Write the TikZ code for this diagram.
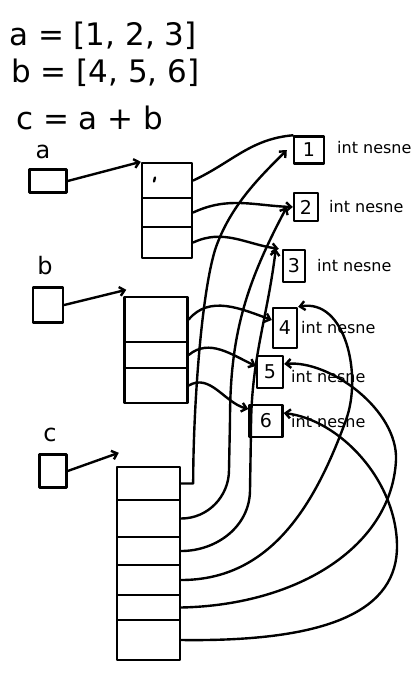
\documentclass[tikz,border=0pt]{standalone}
\usepackage{fontspec}
\setmainfont{DejaVu Sans}
\usetikzlibrary{arrows.meta}
\begin{document}
\begin{tikzpicture}[x=1pt,y=-1pt, line width=2.4pt, line cap=round, line join=round,
  cellbox/.style={draw, inner sep=0pt},
  varbox/.style={draw, inner sep=0pt},
  objbox/.style={draw, inner sep=0pt, font=\fontsize{19}{19}\selectfont},
  nlbl/.style={anchor=west, inner sep=0pt, font=\fontsize{16}{16}\selectfont},
  vlbl/.style={inner sep=0pt, font=\fontsize{24}{24}\selectfont},
  big/.style={anchor=west, inner sep=0pt, font=\fontsize{31}{31}\selectfont},
  arr/.style={-{Straight Barb[length=5pt,width=9pt]}}]
\useasboundingbox (0,0) rectangle (413,673);

% statements
\node[big] (ta) at (8,36) {a = [1, 2, 3]};
\node[big] (tb) at (10,73) {b = [4, 5, 6]};
\node[big] (tc) at (15,118) {c = a + b};

% variables
\node[vlbl] (la) at (43,152) {a};
\node[varbox, minimum width=37pt, minimum height=23pt] (abox) at (48,181) {};
\node[vlbl] (lb) at (45,266) {b};
\node[varbox, minimum width=30pt, minimum height=35pt] (bbox) at (48,305) {};
\node[vlbl] (lc) at (50,435) {c};
\node[varbox, minimum width=27pt, minimum height=33pt] (cbox) at (53,471) {};

% list a
\node[cellbox, minimum width=50pt, minimum height=35pt] (a1) at (167,180.5) {};
\node[cellbox, minimum width=50pt, minimum height=29pt] (a2) at (167,212.5) {};
\node[cellbox, minimum width=50pt, minimum height=31pt] (a3) at (167,242.5) {};
\draw (a1.center) ++(-12,-3) -- ++(-1,4);

% list b
\node[cellbox, minimum width=63pt, minimum height=45pt] (b1) at (156,319.5) {};
\node[cellbox, minimum width=63pt, minimum height=26pt] (b2) at (156,355) {};
\node[cellbox, minimum width=63pt, minimum height=35pt] (b3) at (156,385.5) {};

% list c
\node[cellbox, minimum width=63pt, minimum height=33pt] (c1) at (148.5,483.5) {};
\node[cellbox, minimum width=63pt, minimum height=37pt] (c2) at (148.5,518.5) {};
\node[cellbox, minimum width=63pt, minimum height=28pt] (c3) at (148.5,551) {};
\node[cellbox, minimum width=63pt, minimum height=30pt] (c4) at (148.5,580) {};
\node[cellbox, minimum width=63pt, minimum height=25pt] (c5) at (148.5,607.5) {};
\node[cellbox, minimum width=63pt, minimum height=40pt] (c6) at (148.5,640) {};

% int objects
\node[objbox, minimum width=30pt, minimum height=27pt] (o1) at (309,150) {1};
\node[objbox, minimum width=24pt, minimum height=28pt] (o2) at (306,207) {2};
\node[objbox, minimum width=22pt, minimum height=32pt] (o3) at (294,266) {3};
\node[objbox, minimum width=24pt, minimum height=40pt] (o4) at (285,328) {4};
\node[objbox, minimum width=26pt, minimum height=32pt] (o5) at (270,372) {5};
\node[objbox, minimum width=33pt, minimum height=32pt] (o6) at (266,421) {6};

\node[nlbl] (n1) at (336,148) {int nesne};
\node[nlbl] (n2) at (328,207) {int nesne};
\node[nlbl] (n3) at (316,266) {int nesne};
\node[nlbl] (n4) at (300,328) {int nesne};
\node[nlbl] (n5) at (290,377) {int nesne};
\node[nlbl] (n6) at (290,422) {int nesne};

% variable pointers
\draw[arr] (abox.east) -- (a1.north west);
\draw[arr] (bbox.east) -- ([yshift=6pt,xshift=3pt]b1.north west);
\draw[arr] (cbox.east) -- ([yshift=13pt,xshift=3pt]c1.north west);

% list a pointers
\draw (a1.east) to[out=25,in=185] (o1.north west);
\draw[arr] (a2.east) to[out=25,in=178] (o2.west);
\draw[arr] (a3.east) to[out=25,in=172] ([xshift=-3pt]o3.north west);

% list b pointers
\draw[arr] (b1.east) to[out=50,in=160] ([yshift=8pt]o4.west);
\draw[arr] (b2.east) to[out=40,in=155] ([yshift=6pt]o5.west);
\draw[arr] (b3.east) to[out=30,in=165] ([yshift=12pt]o6.west);

% list c pointers
\draw[arr] (c1.east) -- ++(12,0) .. controls (193,420) and (200,300) .. (215,250)
   .. controls (230,205) and (262,175) .. ([xshift=-6pt]o1.west);
\draw[arr] (c2.east) to[out=0,in=-90] (229,470) -- (230,420)
   to[out=90,in=-118] ([xshift=-6pt]o2.west);
\draw[arr] (c3.east) to[out=0,in=-90] (250,490) -- (251,430)
   to[out=90,in=-97] ([xshift=-6pt]o3.north west);
\draw[arr] (c4.east) to[out=0,in=-110] (346,420)
   to[out=70,in=10] (o4.north east);
\draw[arr] (c5.east) .. controls (300,605) and (392,545) .. (396,460)
   .. controls (398,410) and (330,360) .. ([yshift=8pt]o5.east);
\draw[arr] (c6.east) .. controls (330,642) and (398,610) .. (397,545)
   .. controls (396,480) and (340,420) .. ([yshift=8pt]o6.east);
\end{tikzpicture}
\end{document}
